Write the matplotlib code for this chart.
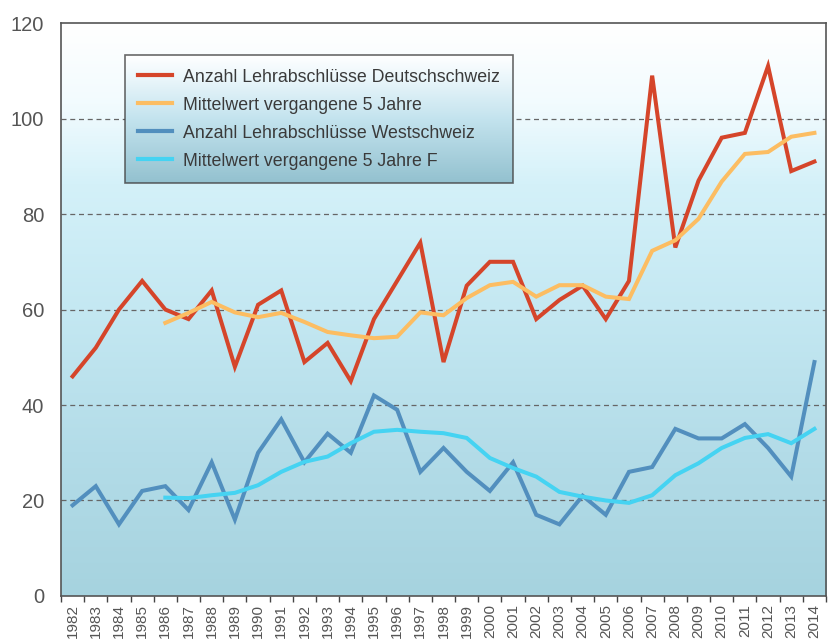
import numpy as np
import matplotlib
matplotlib.use("Agg")
import matplotlib.pyplot as plt
from matplotlib.colors import LinearSegmentedColormap

plt.rcParams['font.family'] = ['Liberation Sans', 'DejaVu Sans']

years = [str(y) for y in range(1982, 2015)]

ds_count = [46, 52, 60, 66, 60, 58, 64, 48, 61, 64, 49, 53, 45, 58, 66, 74, 49,
            65, 70, 70, 58, 62, 65, 58, 66, 109, 73, 87, 96, 97, 111, 89, 91]
ds_mean = [None, None, None, None, 57.2, 59.3, 61.6, 59.4, 58.4, 59.3, 57.4, 55.3,
           54.6, 54.0, 54.3, 59.4, 58.8, 62.4, 65.1, 65.8, 62.7, 65.1, 65.1, 62.7,
           62.2, 72.3, 74.5, 79.0, 86.8, 92.6, 93.0, 96.2, 97.0]
ws_count = [19, 23, 15, 22, 23, 18, 28, 16, 30, 37, 28, 34, 30, 42, 39, 26, 31,
            26, 22, 28, 17, 15, 21, 17, 26, 27, 35, 33, 33, 36, 31, 25, 49]
ws_mean = [None, None, None, None, 20.6, 20.5, 21.1, 21.6, 23.2, 26.0, 28.1, 29.2,
           32.0, 34.4, 34.8, 34.4, 34.1, 33.1, 28.9, 26.8, 25.0, 21.8, 20.8, 20.0,
           19.5, 21.1, 25.3, 27.8, 31.0, 33.1, 33.9, 32.0, 35.0]

labels = ["Anzahl Lehrabschlüsse Deutschschweiz",
          "Mittelwert vergangene 5 Jahre",
          "Anzahl Lehrabschlüsse Westschweiz",
          "Mittelwert vergangene 5 Jahre F"]
colors = ["#d5452a", "#fcbd62", "#528fbe", "#45d3f2"]


def to_arr(vals):
    return np.array([np.nan if v is None else v for v in vals], dtype=float)


def make_legend(target, handles=None):
    kw = dict(loc="upper left", bbox_to_anchor=(0.0837, 0.944), fontsize=12.8,
              frameon=True, fancybox=False, handlelength=1.9,
              handletextpad=0.6, labelspacing=0.62, borderpad=0.75,
              borderaxespad=0)
    if handles is None:
        lg = target.legend(**kw)
    else:
        lg = target.legend(handles, labels, **kw)
    lg.get_frame().set_facecolor("none")
    lg.get_frame().set_edgecolor("#444444")
    lg.get_frame().set_linewidth(1.2)
    for t in lg.get_texts():
        t.set_color("#3a3a3a")
    return lg


fig = plt.figure(figsize=(8.29, 6.42), dpi=100)
ax = fig.add_axes([0.0736, 0.0717, 0.9228, 0.8923])

n = len(years)
x = np.arange(n)

# background gradient of the plot area
bg = LinearSegmentedColormap.from_list(
    "bg", [(0.0, "#a6d3df"), (0.25, "#b3dce8"), (0.5, "#c4e8f2"),
           (0.72, "#d4f1f9"), (0.86, "#f2fbfe"), (1.0, "#ffffff")])
grad = np.linspace(0, 1, 256).reshape(-1, 1)
ax.imshow(grad, cmap=bg, origin="lower", aspect="auto",
          extent=(-0.5, n - 0.5, 0, 120), zorder=0)

for vals, c, lab in zip([ds_count, ds_mean, ws_count, ws_mean], colors, labels):
    ax.plot(x, to_arr(vals), color=c, lw=2.9, label=lab, zorder=3,
            solid_joinstyle="miter")

ax.set_xlim(-0.5, n - 0.5)
ax.set_ylim(0, 120)
ax.set_yticks(range(0, 121, 20))
ax.set_yticklabels([str(v) for v in range(0, 121, 20)], fontsize=14.5, color="#555555")
ax.tick_params(axis="y", length=0, pad=12)

ax.set_xticks(x)
ax.set_xticklabels(years, rotation=90, fontsize=11, color="#555555")
ax.set_xticks(np.arange(-0.5, n, 1), minor=True)
ax.tick_params(axis="x", which="major", length=0, pad=6)
ax.tick_params(axis="x", which="minor", length=4, color="#444444", width=1)

for yv in range(20, 101, 20):
    ax.axhline(yv, color="#666666", lw=0.9, ls=(0, (4, 3)), zorder=1)

for s in ax.spines.values():
    s.set_color("#555555")
    s.set_linewidth(1.2)

# measure the legend box, then paint a gradient behind it
leg = make_legend(ax)
fig.canvas.draw()
bb = leg.get_window_extent().transformed(fig.transFigure.inverted())
leg.remove()

lax = fig.add_axes([bb.x0, bb.y0, bb.width, bb.height])
lgc = LinearSegmentedColormap.from_list(
    "lg", [(0.0, "#93c1cf"), (0.5, "#c3e3ee"), (0.85, "#eef8fc"), (1.0, "#ffffff")])
lax.imshow(grad, cmap=lgc, origin="lower", aspect="auto", extent=(0, 1, 0, 1))
lax.axis("off")
ax.set_zorder(1)
lax.set_zorder(2)

ax2 = fig.add_axes(ax.get_position(), zorder=3)
ax2.axis("off")
handles = [plt.Line2D([], [], color=c, lw=3) for c in colors]
make_legend(ax2, handles)

fig.savefig("out.png", dpi=100)
